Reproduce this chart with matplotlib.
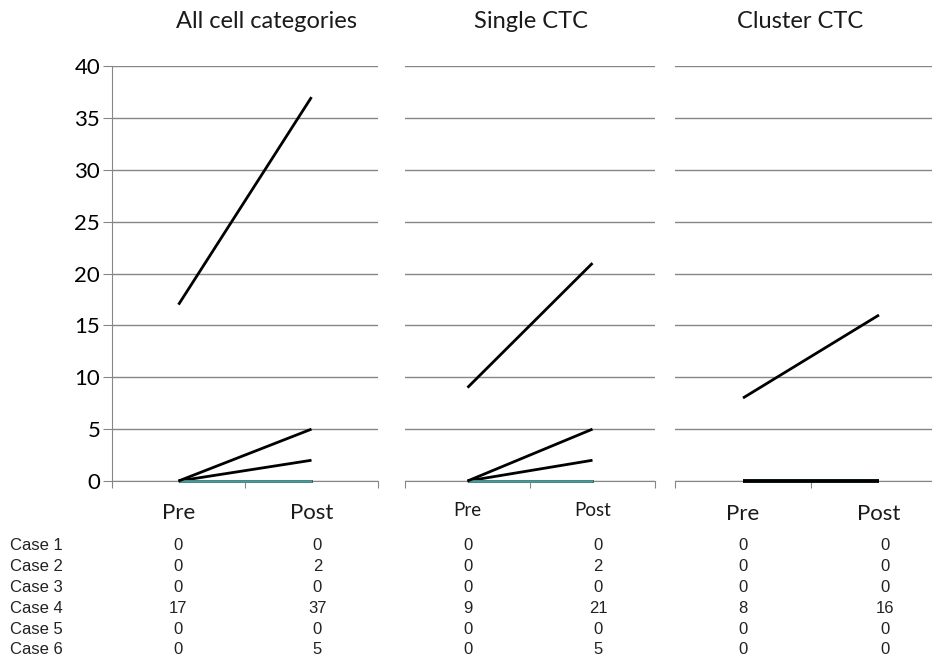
import matplotlib
matplotlib.use('agg')
import matplotlib.pyplot as plt
from matplotlib.transforms import blended_transform_factory

# values per case
cases = ['Case 1', 'Case 2', 'Case 3', 'Case 4', 'Case 5', 'Case 6']
all_pre = [0, 0, 0, 17, 0, 0]
all_post = [0, 2, 0, 37, 0, 5]
single_pre = [0, 0, 0, 9, 0, 0]
single_post = [0, 2, 0, 21, 0, 5]
cluster_pre = [0, 0, 0, 8, 0, 0]
cluster_post = [0, 0, 0, 16, 0, 0]
case_colors = ['black', 'black', 'black', 'black', '#4e9a9b', 'black']

titles = ['All cell categories', 'Single CTC', 'Cluster CTC']
timepoints = ['Pre', 'Post']
y_ticks = [0, 5, 10, 15, 20, 25, 30, 35, 40]

panels = [(all_pre, all_post), (single_pre, single_post), (cluster_pre, cluster_post)]

W, H = 932, 656
fig = plt.figure(figsize=(W / 100, H / 100), dpi=100)

grey = '#868686'
# axes boxes in pixels: left, right
boxes = [(112, 378), (405, 655), (675, 947)]
y0_px, y40_px = 481, 66
title_x = [267, 531, 800]
label_size = [16, 13.5, 16]
label_y = [513, 510, 514]

for k, ((pre, post), (l, r)) in enumerate(zip(panels, boxes)):
    ax = fig.add_axes([l / W, 1 - y0_px / H, (r - l) / W, (y0_px - y40_px) / H])
    ax.set_xlim(-0.5, 1.5)
    ax.set_ylim(0, 40)
    for i in range(len(cases)):
        lw = 2.6 if (k == 2 and pre[i] == 0 and post[i] == 0) else 2.0
        ax.plot([0, 1], [pre[i], post[i]], color=case_colors[i], lw=lw,
                solid_capstyle='butt', clip_on=False, zorder=3)
    ax.set_yticks(y_ticks)
    ax.yaxis.grid(True, color=grey, lw=1.0)
    ax.set_axisbelow(True)
    for s in ['top', 'right']:
        ax.spines[s].set_visible(False)
    ax.spines['bottom'].set_color(grey)
    ax.set_xticks([-0.5, 0.5, 1.5])
    ax.set_xticklabels([])
    ax.tick_params(axis='x', length=5, color=grey, direction='out')
    if k == 0:
        ax.spines['left'].set_color(grey)
        ax.tick_params(axis='y', length=6.5, color=grey, pad=2,
                       labelsize=16)
        for t in ax.get_yticklabels():
            t.set_family('Lato')
    else:
        ax.spines['left'].set_visible(False)
        ax.tick_params(axis='y', length=0, labelleft=False)

    fig.text(title_x[k] / W, 1 - 22 / H, titles[k], ha='center', va='center',
             fontsize=17, family='Lato', color='#1a1a1a')

    tr = blended_transform_factory(ax.transData, fig.transFigure)
    for j, name in enumerate(timepoints):
        ax.text(j, 1 - label_y[k] / H, name, transform=tr, ha='center',
                va='center', fontsize=label_size[k], family='Lato',
                color='#1a1a1a')
    for i in range(len(cases)):
        yy = 1 - (546 + i * 20.8) / H
        ax.text(0, yy, str(pre[i]), transform=tr, ha='center', va='center',
                fontsize=12, family='Liberation Sans', color='#222222')
        ax.text(1.045, yy, str(post[i]), transform=tr, ha='center',
                va='center', fontsize=12, family='Liberation Sans',
                color='#222222')

for i, name in enumerate(cases):
    fig.text(10 / W, 1 - (546 + i * 20.8) / H, name, ha='left', va='center',
             fontsize=12, family='Liberation Sans', color='#222222')

fig.savefig('out.png', dpi=100)
